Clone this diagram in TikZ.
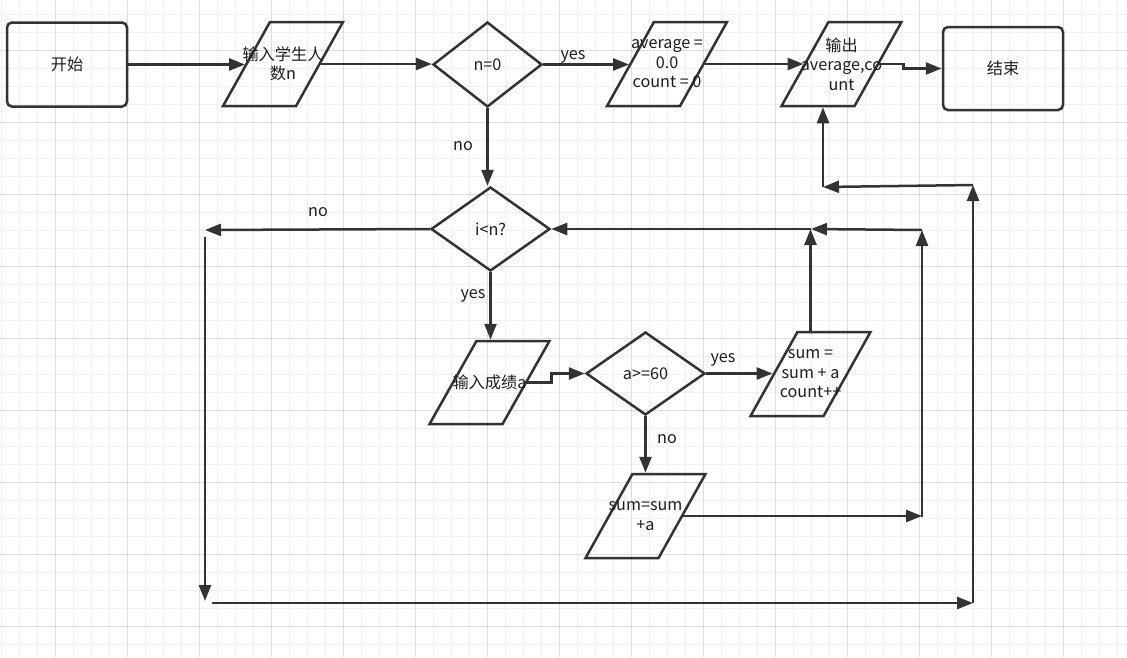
\documentclass[tikz,border=0pt]{standalone}
\usepackage{fontspec}
\setmainfont{Noto Sans CJK SC}
\usetikzlibrary{shapes.geometric,arrows.meta}
\definecolor{lc}{HTML}{333333}
\definecolor{tc}{HTML}{1E1E1E}
\definecolor{gminor}{HTML}{F1F1F1}
\definecolor{gmajor}{HTML}{DEDEDE}
\begin{document}
\begin{tikzpicture}[x=1pt,y=-1pt,
  font=\fontsize{16.2}{19.5}\selectfont, text=tc,
  box/.style={draw=lc, line width=2.5pt, rounded corners=5pt, minimum width=120pt, minimum height=84pt, inner sep=0pt},
  io/.style={trapezium, trapezium left angle=73, trapezium right angle=107, trapezium stretches=true,
    draw=lc, line width=2.5pt, minimum width=120pt, minimum height=84pt, inner sep=2pt},
  iotext/.style={align=center, inner sep=0pt, text=tc},
  dec/.style={diamond, draw=lc, line width=2.5pt, inner sep=0pt},
  conn/.style={draw=lc, line width=2.5pt, -{Triangle[length=16pt,width=12pt]}},
  lbl/.style={inner sep=0pt}
]
\useasboundingbox (0,0) rectangle (1127,657);
\fill[white] (0,0) rectangle (1127,657);
% grid
\foreach \x in {1,19,...,1127} \draw[gminor, line width=1pt] (\x,0) -- (\x,657);
\foreach \y in {14,32,...,657} \draw[gminor, line width=1pt] (0,\y) -- (1127,\y);
\foreach \x in {55,127,...,1127} \draw[gmajor, line width=1pt] (\x,0) -- (\x,657);
\foreach \y in {50,122,...,657} \draw[gmajor, line width=1pt] (0,\y) -- (1127,\y);

% nodes
\node[box] (start) at (67,64.5) {开始};
\node[io, label={[iotext]center:输入学生人\\数n}] (inN) at (283,64) {\strut};
\node[dec, minimum width=109pt, minimum height=85pt] (n0) at (487.5,64.5) {n=0};
\node[io, label={[iotext]center:average =\\0.0\\count = 0}] (avg) at (667,64) {\strut};
\node[io, label={[iotext]center:输出\\average,co\\unt}] (out) at (841.5,64) {\strut};
\node[box, minimum height=83pt] (end) at (1003,68.5) {结束};
\node[dec, minimum width=119pt, minimum height=84pt] (iln) at (490.5,229) {i<n?};
\node[io, minimum height=83pt, label={[iotext]center:输入成绩a}] (inA) at (489.5,382.5) {\strut};
\node[dec, minimum width=119pt, minimum height=83pt] (a60) at (645.5,373.5) {a>=60};
\node[io, label={[iotext]center:sum =\\sum + a\\count++}] (sumBox) at (810.5,374) {\strut};
\node[io, label={[iotext]center:sum=sum\\+a}] (sumSum) at (645.5,516) {\strut};

% labels
\node[lbl] (yes1) at (573,57) {yes};
\node[lbl] (no1) at (463,146) {no};
\node[lbl] (no2) at (318,212) {no};
\node[lbl] (yes2) at (473,296) {yes};
\node[lbl] (yes3) at (723,360) {yes};
\node[lbl] (no3) at (667,439) {no};

% helper coordinates
\coordinate (c1) at (811,229);
\coordinate (c2) at (922,230);
\coordinate (c3) at (922,517);
\coordinate (c4) at (205,230);
\coordinate (c4b) at (205,237);
\coordinate (c5) at (205,601);
\coordinate (c5b) at (212,603);
\coordinate (c6) at (973,603);
\coordinate (c7) at (973,185);
\coordinate (c8) at (823,187);

% connectors
\draw[conn] (start.east) -- (start.east -| inN.west);
\draw[conn] (inN.east) -- (inN.east -| n0.west);
\draw[conn] (n0.east) -- (n0.east -| avg.west);
\draw[conn] (avg.east) -- (avg.east -| out.west);
\draw[conn] (out.east) -- ++(24,0) |- (end.west);
\draw[conn] (n0.south) -- (n0.south |- iln.north);
\draw[conn] (iln.south) -- (iln.south |- inA.north);
\draw[conn] (inA.east) -- ++(24,0) |- (a60.west);
\draw[conn] (a60.east) -- (a60.east -| sumBox.west);
\draw[conn] (a60.south) -- (a60.south |- sumSum.north);
\draw[conn] (sumBox.north) -- (sumBox.north |- c1);
\draw[conn] (c2) -- (c1);
\draw[conn] (c1) -- (iln.east);
\draw[conn] (sumSum.east) -- (sumSum.east -| c3);
\draw[conn] (c3) -- (c2);
\draw[conn] (iln.west) -- (c4);
\draw[conn] (c4b) -- (c5);
\draw[conn] (c5b) -- (c6);
\draw[conn] (c6) -- (c7);
\draw[conn] (c7) -- (c8);
\draw[conn] (c8) -- (c8 |- out.south);
\end{tikzpicture}
\end{document}
